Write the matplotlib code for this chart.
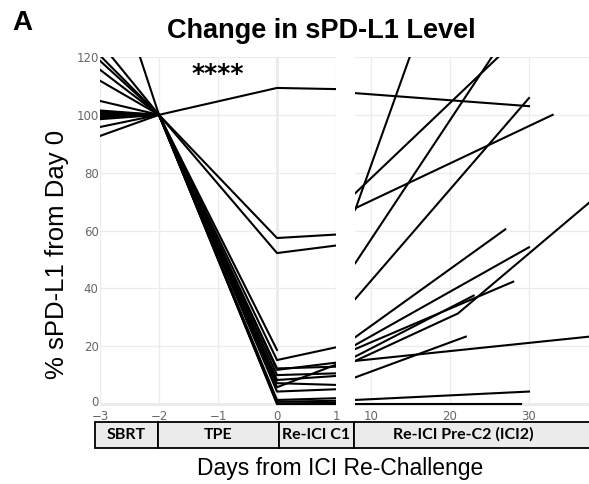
import numpy as np
import matplotlib
matplotlib.use("Agg")
import matplotlib.pyplot as plt
from matplotlib.patches import Rectangle
from matplotlib.transforms import ScaledTranslation

# ---- data ----
left_days = [-3, -2, 0, 1]
sbrt_vals = [104.8, 111.8, 98.5, 162, 115.6, 118.7, 101.5, 125, 101, 100.5, 95.8, 99.5, 120.5, 92.7, 99, 100]
tpe_vals = [100] * 16
c1_vals = [109.3, 57.4, 52.2, 18.7, 15.2, 12.3, 11.8, 10, 8.3, 7.2, 5.8, 4.3, 1.4, 0.8, 0.2, 0.0]
c1_end_vals = [108.9, 58.6, 54.8, np.nan, 19.6, 12.9, 14.3, 10.6, 9.7, 6.6, 13.6, 5.1, 2.0, 1.1, 0.4, 0.0]

ici2_days = [[8, 30], [8, 29], [8, 21], [8, 33], [8, 27], [8, 30], [8, 27], [8, 30],
             [8, 28], [8, 23], [8, 21, 38], [8, 38], [8, 22], [8, 30], [8, 29]]
ici2_vals = [[107.5, 103], [72.9, 127.5], [67.2, 166.7], [67.7, 100], [48.7, 127],
             [36.3, 105.8], [23.1, 60.4], [20.4, 54.2], [19.0, 42.3], [16.4, 37.5],
             [14.9, 31.3, 70.5], [14.9, 23.4], [9.2, 23.3], [1.4, 4.3], [0.0, 0.0]]

left_ticks = [-3, -2, -1, 0, 1]
right_ticks = [10, 20, 30]
y_ticks = [0, 20, 40, 60, 80, 100, 120]
band_labels = ["SBRT", "TPE", "Re-ICI C1", "Re-ICI Pre-C2 (ICI2)"]

# ---- figure ----
W, H = 589, 484
fig = plt.figure(figsize=(W / 100, H / 100), dpi=100)

def fx(px):
    return px / W

def fy(py):
    return 1 - py / H

y0_px, y120_px = 404, 57
ylo, yhi = -0.6, 120
ppu = (y0_px - y120_px) / 120.0
bot = y0_px + (0 - ylo) * ppu
top = y120_px
axL = fig.add_axes([fx(100), fy(bot), fx(336 - 100), (bot - top) / H])
axR = fig.add_axes([fx(355), fy(bot), fx(589 - 355), (bot - top) / H])

tick_col = "#666666"
grid_col = "#ececec"

for ax in (axL, axR):
    ax.set_ylim(ylo, yhi)
    for s in ax.spines.values():
        s.set_visible(False)
    ax.set_yticks(y_ticks)
    ax.grid(True, color=grid_col, lw=0.9, zorder=0)
    ax.tick_params(length=0, colors=tick_col, labelsize=8.5, pad=2)
    ax.tick_params(axis="x", pad=3)
    ax.axhline(0, color="#9a9a9a", lw=1.0, zorder=1)

axL.set_xlim(-3, 1)
axL.set_xticks(left_ticks)
axL.set_xticklabels(["\u22123", "\u22122", "\u22121", "0", "1"])
axL.axvline(0, color="#9a9a9a", lw=1.0, zorder=1)
axL.tick_params(axis="y", pad=1)

axR.set_xlim(7.97, 37.6)
axR.set_xticks(right_ticks)
axR.set_yticklabels([])

# raise the "0" y label a little so it clears the x tick labels
fig.canvas.draw()
zero_lab = axL.get_yticklabels()[0]
zero_lab.set_transform(zero_lab.get_transform() + ScaledTranslation(0, 3 / 100, fig.dpi_scale_trans))

for a, b, c, d in zip(sbrt_vals, tpe_vals, c1_vals, c1_end_vals):
    axL.plot(left_days, [a, b, c, d], color="black", lw=1.5, zorder=3)

for xs, ys in zip(ici2_days, ici2_vals):
    axR.plot(xs, ys, color="black", lw=1.5, zorder=3)

axL.text(-1, 114, "****", ha="center", va="center", fontsize=18, fontweight="bold",
         family="DejaVu Sans")

# ---- band table ----
edges = [95, 157.7, 279, 354, 592]
centers = [126, 218, 316.5, 463]
by0, by1 = 421.7, 447.7
for i, lab in enumerate(band_labels):
    r = Rectangle((fx(edges[i]), fy(by1)), fx(edges[i + 1] - edges[i]), (by1 - by0) / H,
                  transform=fig.transFigure, facecolor="#ebebeb", edgecolor="black",
                  lw=1.3, clip_on=False)
    fig.add_artist(r)
    fig.text(fx(centers[i]), fy((by0 + by1) / 2), lab, ha="center", va="center",
             fontsize=11.5, fontweight="bold", family="Lato")

# ---- texts ----
fig.text(fx(321), fy(31), "Change in sPD-L1 Level", ha="center", va="center",
         fontsize=19.5, fontweight="bold", family="Liberation Sans")
fig.text(fx(22), fy(23), "A", ha="center", va="center", fontsize=20,
         fontweight="bold", family="Liberation Sans")
fig.text(fx(340), fy(469), "Days from ICI Re-Challenge", ha="center", va="center",
         fontsize=16.5, family="Liberation Sans")
fig.text(fx(57), fy(254), "% sPD-L1 from Day 0", ha="center", va="center",
         fontsize=18.5, rotation=90, family="Liberation Sans")

fig.savefig("out.png", dpi=100)
